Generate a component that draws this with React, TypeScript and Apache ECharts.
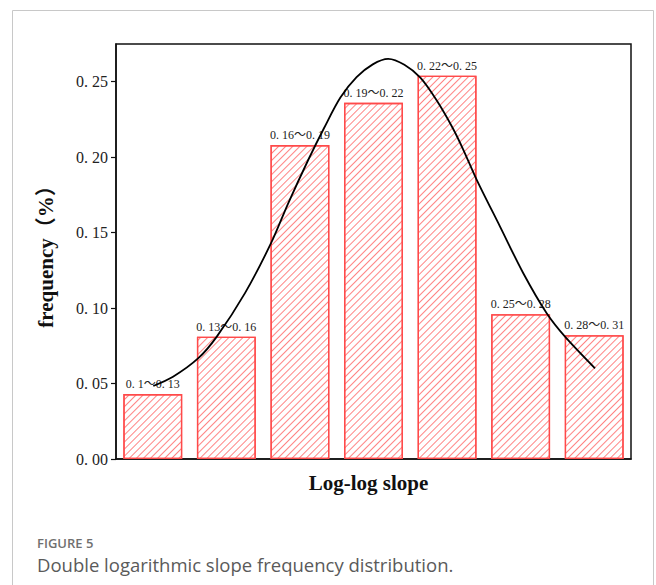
import React, { useEffect, useRef } from 'react';
import * as echarts from 'echarts';

// Slope classes (bin ranges) and their relative frequency
const categories = ['0. 1～0. 13', '0. 13～0. 16', '0. 16～0. 19', '0. 19～0. 22', '0. 22～0. 25', '0. 25～0. 28', '0. 28～0. 31'];
const frequencies = [0.043, 0.081, 0.208, 0.236, 0.254, 0.096, 0.082];

// Fitted distribution curve, x measured in class widths from the left edge
const curveX = [0.507, 0.775, 1.119, 1.37, 1.753, 2.107, 2.342, 2.614, 2.83, 3.05, 3.27, 3.49, 3.7, 3.92, 4.14, 4.36, 4.58, 4.721, 4.903, 5.22, 5.536, 5.854, 6.103, 6.511];
const curveY = [0.0484, 0.0545, 0.0668, 0.0811, 0.1099, 0.143, 0.1696, 0.1983, 0.2195, 0.2395, 0.253, 0.2615, 0.2651, 0.2612, 0.2525, 0.2375, 0.219, 0.2049, 0.185, 0.154, 0.1231, 0.0966, 0.0811, 0.0601];

const yMin = 0;
const yMax = 0.275;
const yStep = 0.05;

const figureLabel = 'FIGURE 5';
const figureCaption = 'Double logarithmic slope frequency distribution.';

const SERIF = '"Liberation Serif", "Times New Roman", "Noto Sans CJK SC", serif';
const SANS = '"Open Sans", "Noto Sans", sans-serif';

export default function App() {
  const ref = useRef<HTMLDivElement>(null);

  useEffect(() => {
    if (!ref.current) return;
    const chart = echarts.init(ref.current, undefined, { renderer: 'svg' });
    const red = '#ff4a4a';

    chart.setOption({
      animation: false,
      backgroundColor: '#fff',
      grid: {
        left: 116,
        right: 25,
        top: 44,
        bottom: 126,
        show: true,
        borderColor: '#111',
        borderWidth: 1.5,
        containLabel: false,
      },
      xAxis: [
        {
          type: 'category',
          data: categories,
          name: 'Log-log slope',
          nameLocation: 'middle',
          nameGap: 13,
          nameTextStyle: {
            fontFamily: SERIF,
            fontSize: 21,
            fontWeight: 'bold',
            color: '#111',
            verticalAlign: 'top',
            padding: [0, 10, 0, 0],
          },
          axisLine: { show: true, lineStyle: { color: '#111', width: 1.5 } },
          axisTick: { show: false },
          axisLabel: { show: false },
        },
        {
          type: 'value',
          min: 0,
          max: 7,
          show: false,
        },
      ],
      yAxis: {
        type: 'value',
        min: yMin,
        max: yMax,
        interval: yStep,
        name: 'frequency（%）',
        nameLocation: 'middle',
        nameGap: 60,
        nameTextStyle: { fontFamily: SERIF, fontSize: 21, fontWeight: 'bold', color: '#111' },
        axisLine: { show: true, lineStyle: { color: '#111', width: 1.5 } },
        axisTick: { show: true, inside: false, length: 5, lineStyle: { color: '#111', width: 1.2 } },
        splitLine: { show: false },
        axisLabel: {
          showMaxLabel: false,
          margin: 8,
          fontFamily: SERIF,
          fontSize: 16,
          color: '#222',
          formatter: (v: number) => v.toFixed(2).replace('.', '. '),
        },
      },
      series: [
        {
          type: 'bar',
          data: frequencies,
          barCategoryGap: '20%',
          itemStyle: {
            color: '#fff',
            borderColor: red,
            borderWidth: 1.3,
            decal: {
              symbol: 'rect',
              symbolSize: 1,
              dashArrayX: [1, 0],
              dashArrayY: [1, 4],
              rotation: -Math.PI / 4,
              color: 'rgba(255,80,80,0.7)',
            },
          },
          label: {
            show: true,
            position: 'top',
            distance: 4,
            formatter: (p: any) => categories[p.dataIndex],
            fontFamily: SERIF,
            fontSize: 12,
            color: '#222',
          },
          z: 2,
        },
        {
          type: 'line',
          xAxisIndex: 1,
          data: curveX.map((x, i) => [x, curveY[i]]),
          smooth: 0.3,
          showSymbol: false,
          lineStyle: { color: '#000', width: 1.8 },
          z: 5,
        },
      ],
      graphic: [
        {
          type: 'rect',
          shape: { x: 12.5, y: 10.5, width: 641, height: 600 },
          style: { fill: 'none', stroke: '#c8c8c8', lineWidth: 1 },
          silent: true,
          z: -1,
        },
        {
          type: 'text',
          left: 37,
          top: 536,
          style: { text: figureLabel, font: `600 13px ${SANS}`, fill: '#707070' },
        },
        {
          type: 'text',
          left: 37,
          top: 555,
          style: { text: figureCaption, font: `18.5px ${SANS}`, fill: '#5a5a5a' },
        },
      ],
    });

    return () => chart.dispose();
  }, []);

  return (
    <div
      ref={ref}
      style={{ position: 'fixed', left: 0, top: 0, width: 656, height: 585 }}
    />
  );
}
